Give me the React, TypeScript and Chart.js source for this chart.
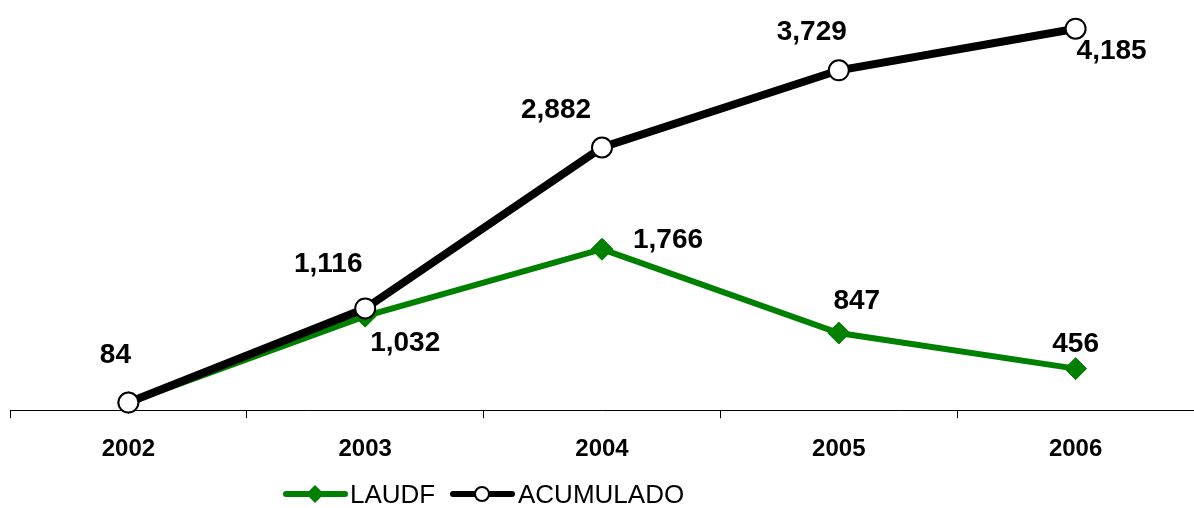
import React, { useEffect, useRef } from "react";
import { Chart, registerables } from "chart.js";

Chart.register(...registerables);

const categories = ["2002", "2003", "2004", "2005", "2006"];
const laudf = [84, 1032, 1766, 847, 456];
const acumulado = [84, 1116, 2882, 3729, 4185];
// label offsets (dx, dy) relative to the point; null hides a label
const laudfLabelOffsets: ([number, number] | null)[] = [null, [40, 27], [66, -9], [18, -32], [0, -24]];
const acumLabelOffsets: ([number, number] | null)[] = [[-13, -47], [-37, -44], [-46, -37], [-27, -38], [36, 23]];

const FONT = "'Liberation Sans', Arial, sans-serif";
const GREEN = "#008000";

const fmt = (v: number) => v.toLocaleString("en-US");

const labelsPlugin = {
  id: "customLabels",
  afterDatasetsDraw(chart: any) {
    const ctx = chart.ctx;
    ctx.save();
    ctx.font = `bold 28px ${FONT}`;
    ctx.fillStyle = "#000";
    ctx.textAlign = "center";
    ctx.textBaseline = "middle";
    const offsets = [laudfLabelOffsets, acumLabelOffsets];
    chart.data.datasets.forEach((ds: any, i: number) => {
      const meta = chart.getDatasetMeta(i);
      meta.data.forEach((pt: any, j: number) => {
        const off = offsets[i][j];
        if (!off) return;
        ctx.fillText(fmt(ds.data[j]), pt.x + off[0], pt.y + off[1]);
      });
    });
    ctx.restore();
  },
  afterDraw(chart: any) {
    const ctx = chart.ctx;
    ctx.save();
    const y = 494;
    // LAUDF
    ctx.strokeStyle = GREEN;
    ctx.lineWidth = 6;
    ctx.lineCap = "round";
    ctx.beginPath();
    ctx.moveTo(286, y);
    ctx.lineTo(345, y);
    ctx.stroke();
    ctx.fillStyle = GREEN;
    ctx.beginPath();
    ctx.moveTo(315, y - 9);
    ctx.lineTo(324, y);
    ctx.lineTo(315, y + 9);
    ctx.lineTo(306, y);
    ctx.closePath();
    ctx.fill();
    // ACUMULADO
    ctx.strokeStyle = "#000";
    ctx.lineWidth = 6;
    ctx.beginPath();
    ctx.moveTo(453, y);
    ctx.lineTo(512, y);
    ctx.stroke();
    ctx.fillStyle = "#fff";
    ctx.lineWidth = 2;
    ctx.beginPath();
    ctx.arc(482, y, 7, 0, Math.PI * 2);
    ctx.fill();
    ctx.stroke();
    ctx.fillStyle = "#000";
    ctx.font = `26px ${FONT}`;
    ctx.textAlign = "left";
    ctx.textBaseline = "middle";
    ctx.fillText("LAUDF", 350, y + 2);
    ctx.fillText("ACUMULADO", 518, y + 2);
    ctx.restore();
  },
};

export default function App() {
  const ref = useRef<HTMLCanvasElement | null>(null);
  useEffect(() => {
    if (!ref.current) return;
    const chart = new Chart(ref.current, {
      type: "line",
      data: {
        labels: categories,
        datasets: [
          {
            label: "LAUDF",
            data: laudf,
            borderColor: GREEN,
            backgroundColor: GREEN,
            borderWidth: 6,
            pointStyle: "rectRot",
            pointRadius: 11,
            pointBackgroundColor: GREEN,
            pointBorderColor: GREEN,
            pointBorderWidth: 1,
            order: 2,
            tension: 0,
            clip: false,
          },
          {
            label: "ACUMULADO",
            data: acumulado,
            borderColor: "#000",
            backgroundColor: "#fff",
            borderWidth: 8,
            pointStyle: "circle",
            pointRadius: 10,
            pointBackgroundColor: "#fff",
            pointBorderColor: "#000",
            pointBorderWidth: 2,
            order: 1,
            tension: 0,
            clip: false,
          },
        ],
      },
      options: {
        animation: false,
        responsive: false,
        maintainAspectRatio: false,
        layout: { autoPadding: false, padding: { left: 10, right: 0, top: 0, bottom: 27 } },
        plugins: { legend: { display: false }, tooltip: { enabled: false } },
        scales: {
          x: {
            type: "category",
            offset: true,
            grid: {
              offset: true,
              drawOnChartArea: false,
              drawTicks: true,
              tickLength: 8,
              color: "#000",
              lineWidth: 1,
            },
            border: { color: "#000", width: 1 },
            ticks: {
              color: "#000",
              font: { family: FONT, size: 24, weight: "bold" },
              padding: 17,
              maxRotation: 0,
            },
          },
          y: {
            display: false,
            min: 0,
            max: 4500,
          },
        },
      },
      plugins: [labelsPlugin],
    });
    return () => chart.destroy();
  }, []);
  return (
    <div style={{ position: "fixed", left: 0, top: 0, width: 1194, height: 508, background: "#fff" }}>
      <canvas ref={ref} width={1194} height={508} style={{ display: "block" }} />
    </div>
  );
}
